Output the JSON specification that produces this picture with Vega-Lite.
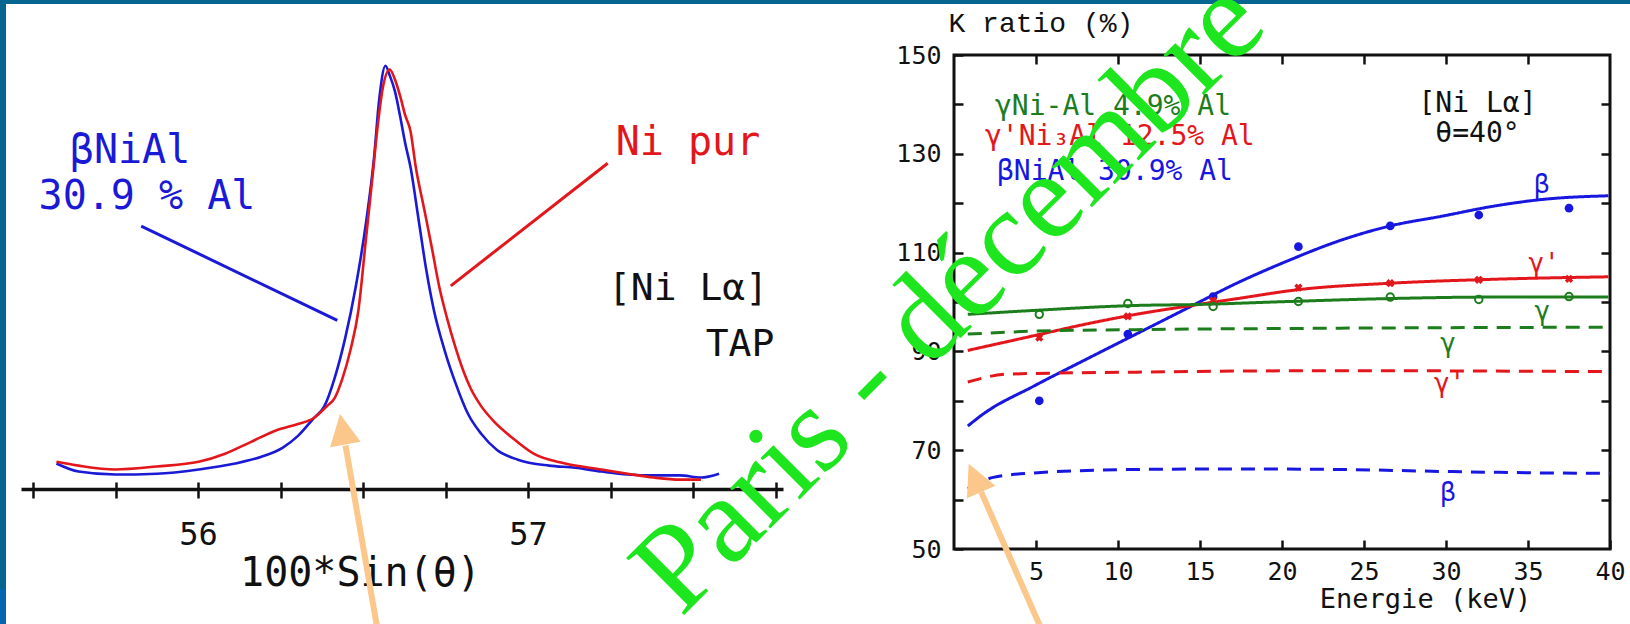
{
  "$schema": "https://vega.github.io/schema/vega-lite/v6.json",
  "background": "white",
  "autosize": {"type": "pad"},
  "padding": {"left": -50, "top": -100, "right": -50, "bottom": -56},
  "bounds": "flush",
  "spacing": 171,
  "resolve": {"scale": {"color": "independent", "strokeDash": "independent"}},
  "config": {
    "axis": {"grid": false, "labelFont": "DejaVu Sans Mono", "titleFont": "DejaVu Sans Mono", "labelColor": "#111", "titleColor": "#111", "titleFontWeight": "normal", "tickColor": "#111", "domainColor": "#111", "labelFlush": false, "labelOverlap": false},
    "text": {"font": "DejaVu Sans Mono"}
  },
  "datasets": {
    "spectra": [
      {"sample": "βNiAl", "s": 55.571, "I": 6.0}, {"sample": "βNiAl", "s": 55.638, "I": 4.1}, {"sample": "βNiAl", "s": 55.749, "I": 3.4}, {"sample": "βNiAl", "s": 55.875, "I": 3.6}, {"sample": "βNiAl", "s": 56.002, "I": 4.6}, {"sample": "βNiAl", "s": 56.113, "I": 6.0}, {"sample": "βNiAl", "s": 56.192, "I": 7.6}, {"sample": "βNiAl", "s": 56.256, "I": 9.7}, {"sample": "βNiAl", "s": 56.303, "I": 12.5}, {"sample": "βNiAl", "s": 56.351, "I": 16.7}, {"sample": "βNiAl", "s": 56.383, "I": 19.5}, {"sample": "βNiAl", "s": 56.414, "I": 26.1}, {"sample": "βNiAl", "s": 56.446, "I": 35.5}, {"sample": "βNiAl", "s": 56.478, "I": 47.6}, {"sample": "βNiAl", "s": 56.509, "I": 62.6}, {"sample": "βNiAl", "s": 56.533, "I": 77.6}, {"sample": "βNiAl", "s": 56.549, "I": 91.6}, {"sample": "βNiAl", "s": 56.568, "I": 99.6}, {"sample": "βNiAl", "s": 56.581, "I": 97.3}, {"sample": "βNiAl", "s": 56.597, "I": 93.5}, {"sample": "βNiAl", "s": 56.612, "I": 87.9}, {"sample": "βNiAl", "s": 56.628, "I": 81.3}, {"sample": "βNiAl", "s": 56.644, "I": 75.7}, {"sample": "βNiAl", "s": 56.668, "I": 63.6}, {"sample": "βNiAl", "s": 56.692, "I": 51.4}, {"sample": "βNiAl", "s": 56.715, "I": 42.0}, {"sample": "βNiAl", "s": 56.747, "I": 32.7}, {"sample": "βNiAl", "s": 56.779, "I": 25.2}, {"sample": "βNiAl", "s": 56.818, "I": 17.7}, {"sample": "βNiAl", "s": 56.858, "I": 13.0}, {"sample": "βNiAl", "s": 56.906, "I": 9.2}, {"sample": "βNiAl", "s": 56.969, "I": 6.9}, {"sample": "βNiAl", "s": 57.064, "I": 5.5}, {"sample": "βNiAl", "s": 57.143, "I": 5.0}, {"sample": "βNiAl", "s": 57.223, "I": 4.1}, {"sample": "βNiAl", "s": 57.302, "I": 3.4}, {"sample": "βNiAl", "s": 57.381, "I": 3.2}, {"sample": "βNiAl", "s": 57.46, "I": 3.2}, {"sample": "βNiAl", "s": 57.524, "I": 2.7}, {"sample": "βNiAl", "s": 57.579, "I": 3.6},
      {"sample": "Ni pur", "s": 55.571, "I": 6.4}, {"sample": "Ni pur", "s": 55.638, "I": 5.5}, {"sample": "Ni pur", "s": 55.749, "I": 4.6}, {"sample": "Ni pur", "s": 55.875, "I": 5.3}, {"sample": "Ni pur", "s": 56.002, "I": 6.4}, {"sample": "Ni pur", "s": 56.082, "I": 8.3}, {"sample": "Ni pur", "s": 56.161, "I": 11.1}, {"sample": "Ni pur", "s": 56.24, "I": 13.9}, {"sample": "Ni pur", "s": 56.303, "I": 15.3}, {"sample": "Ni pur", "s": 56.351, "I": 16.7}, {"sample": "Ni pur", "s": 56.391, "I": 19.5}, {"sample": "Ni pur", "s": 56.414, "I": 21.4}, {"sample": "Ni pur", "s": 56.438, "I": 26.1}, {"sample": "Ni pur", "s": 56.462, "I": 32.7}, {"sample": "Ni pur", "s": 56.486, "I": 42.0}, {"sample": "Ni pur", "s": 56.509, "I": 58.9}, {"sample": "Ni pur", "s": 56.528, "I": 72.9}, {"sample": "Ni pur", "s": 56.544, "I": 85.1}, {"sample": "Ni pur", "s": 56.56, "I": 94.4}, {"sample": "Ni pur", "s": 56.581, "I": 98.7}, {"sample": "Ni pur", "s": 56.597, "I": 96.3}, {"sample": "Ni pur", "s": 56.612, "I": 92.6}, {"sample": "Ni pur", "s": 56.628, "I": 87.9}, {"sample": "Ni pur", "s": 56.644, "I": 84.2}, {"sample": "Ni pur", "s": 56.66, "I": 75.7}, {"sample": "Ni pur", "s": 56.684, "I": 66.4}, {"sample": "Ni pur", "s": 56.708, "I": 57.0}, {"sample": "Ni pur", "s": 56.731, "I": 47.6}, {"sample": "Ni pur", "s": 56.755, "I": 40.1}, {"sample": "Ni pur", "s": 56.779, "I": 33.6}, {"sample": "Ni pur", "s": 56.803, "I": 28.0}, {"sample": "Ni pur", "s": 56.826, "I": 23.7}, {"sample": "Ni pur", "s": 56.858, "I": 19.5}, {"sample": "Ni pur", "s": 56.898, "I": 15.8}, {"sample": "Ni pur", "s": 56.953, "I": 12.0}, {"sample": "Ni pur", "s": 57.017, "I": 8.3}, {"sample": "Ni pur", "s": 57.112, "I": 6.0}, {"sample": "Ni pur", "s": 57.223, "I": 4.6}, {"sample": "Ni pur", "s": 57.302, "I": 3.6}, {"sample": "Ni pur", "s": 57.381, "I": 2.7}, {"sample": "Ni pur", "s": 57.46, "I": 2.2}, {"sample": "Ni pur", "s": 57.524, "I": 2.2}
    ],
    "leaders": [
      {"sample": "βNiAl", "s": 55.8278, "I": 61.86, "s2": 56.4221, "I2": 39.67},
      {"sample": "Ni pur", "s": 57.2415, "I": 76.66, "s2": 56.766, "I2": 47.81}
    ],
    "ltext": [
      {"sample": "βNiAl", "label": "βNiAl", "s": 55.794, "I": 79.53},
      {"sample": "βNiAl", "label": "30.9 % Al", "s": 55.8454, "I": 68.71},
      {"sample": "Ni pur", "label": "Ni pur", "s": 57.4848, "I": 81.41}
    ],
    "lblack": [
      {"label": "[Ni Lα]", "s": 57.4848, "I": 47.06},
      {"label": "TAP", "s": 57.6424, "I": 33.88}
    ],
    "larrow": [{"s": 56.5442, "I": -33.17, "s2": 56.447, "I2": 10.24}],
    "lhead": [{"s": 56.4303, "I": 17.65}],
    "kcurves": [
      {"phase": "β", "model": "fit", "E": 0.84, "K": 74.9}, {"phase": "β", "model": "fit", "E": 1.77, "K": 77.3}, {"phase": "β", "model": "fit", "E": 4.88, "K": 83.0}, {"phase": "β", "model": "fit", "E": 8.0, "K": 88.3}, {"phase": "β", "model": "fit", "E": 11.1, "K": 93.5}, {"phase": "β", "model": "fit", "E": 14.2, "K": 98.7}, {"phase": "β", "model": "fit", "E": 17.3, "K": 103.9}, {"phase": "β", "model": "fit", "E": 20.4, "K": 108.4}, {"phase": "β", "model": "fit", "E": 23.5, "K": 112.4}, {"phase": "β", "model": "fit", "E": 26.6, "K": 115.4}, {"phase": "β", "model": "fit", "E": 29.8, "K": 117.4}, {"phase": "β", "model": "fit", "E": 32.9, "K": 119.4}, {"phase": "β", "model": "fit", "E": 36.0, "K": 120.8}, {"phase": "β", "model": "fit", "E": 39.9, "K": 121.5},
      {"phase": "β", "model": "dash", "E": 0.84, "K": 62.2}, {"phase": "β", "model": "dash", "E": 2.4, "K": 64.5}, {"phase": "β", "model": "dash", "E": 4.9, "K": 65.4}, {"phase": "β", "model": "dash", "E": 11.1, "K": 66.1}, {"phase": "β", "model": "dash", "E": 17.3, "K": 66.2}, {"phase": "β", "model": "dash", "E": 23.5, "K": 66.1}, {"phase": "β", "model": "dash", "E": 29.8, "K": 65.7}, {"phase": "β", "model": "dash", "E": 36.0, "K": 65.4}, {"phase": "β", "model": "dash", "E": 40.0, "K": 65.3},
      {"phase": "γ'", "model": "fit", "E": 0.84, "K": 90.2}, {"phase": "γ'", "model": "fit", "E": 4.9, "K": 93.2}, {"phase": "γ'", "model": "fit", "E": 8.0, "K": 95.5}, {"phase": "γ'", "model": "fit", "E": 11.1, "K": 97.5}, {"phase": "γ'", "model": "fit", "E": 14.9, "K": 99.5}, {"phase": "γ'", "model": "fit", "E": 17.3, "K": 100.7}, {"phase": "γ'", "model": "fit", "E": 21.0, "K": 102.5}, {"phase": "γ'", "model": "fit", "E": 26.6, "K": 103.8}, {"phase": "γ'", "model": "fit", "E": 32.9, "K": 104.6}, {"phase": "γ'", "model": "fit", "E": 39.9, "K": 105.1},
      {"phase": "γ'", "model": "dash", "E": 0.84, "K": 83.8}, {"phase": "γ'", "model": "dash", "E": 3.3, "K": 85.4}, {"phase": "γ'", "model": "dash", "E": 11.1, "K": 85.8}, {"phase": "γ'", "model": "dash", "E": 23.5, "K": 86.1}, {"phase": "γ'", "model": "dash", "E": 40.0, "K": 85.9},
      {"phase": "γ", "model": "fit", "E": 0.84, "K": 97.5}, {"phase": "γ", "model": "fit", "E": 4.9, "K": 98.3}, {"phase": "γ", "model": "fit", "E": 11.1, "K": 99.3}, {"phase": "γ", "model": "fit", "E": 14.9, "K": 99.5}, {"phase": "γ", "model": "fit", "E": 20.4, "K": 100.1}, {"phase": "γ", "model": "fit", "E": 26.6, "K": 100.7}, {"phase": "γ", "model": "fit", "E": 32.9, "K": 101.0}, {"phase": "γ", "model": "fit", "E": 39.9, "K": 101.0},
      {"phase": "γ", "model": "dash", "E": 0.84, "K": 93.5}, {"phase": "γ", "model": "dash", "E": 4.9, "K": 94.1}, {"phase": "γ", "model": "dash", "E": 11.1, "K": 94.4}, {"phase": "γ", "model": "dash", "E": 23.5, "K": 94.7}, {"phase": "γ", "model": "dash", "E": 40.0, "K": 94.9}
    ],
    "kpoints": [
      {"phase": "β", "E": 5.2, "K": 80.0}, {"phase": "β", "E": 10.6, "K": 93.5}, {"phase": "β", "E": 15.8, "K": 101.1}, {"phase": "β", "E": 21.0, "K": 111.2}, {"phase": "β", "E": 26.6, "K": 115.4}, {"phase": "β", "E": 32.0, "K": 117.6}, {"phase": "β", "E": 37.5, "K": 119.0},
      {"phase": "γ'", "E": 5.2, "K": 92.8}, {"phase": "γ'", "E": 10.6, "K": 97.1}, {"phase": "γ'", "E": 15.8, "K": 100.3}, {"phase": "γ'", "E": 21.0, "K": 102.9}, {"phase": "γ'", "E": 26.6, "K": 103.8}, {"phase": "γ'", "E": 32.0, "K": 104.5}, {"phase": "γ'", "E": 37.5, "K": 104.7},
      {"phase": "γ", "E": 5.2, "K": 97.5}, {"phase": "γ", "E": 10.6, "K": 99.7}, {"phase": "γ", "E": 15.8, "K": 99.1}, {"phase": "γ", "E": 21.0, "K": 100.1}, {"phase": "γ", "E": 26.6, "K": 101.0}, {"phase": "γ", "E": 32.0, "K": 100.5}, {"phase": "γ", "E": 37.5, "K": 101.1}
    ],
    "klegend": [
      {"phase": "γ", "label": "γNi-Al 4.9% Al", "E": 2.5, "K": 139.47},
      {"phase": "γ'", "label": "γ'Ni₃Al 12.5% Al", "E": 1.89, "K": 133.4},
      {"phase": "β", "label": "βNiAl 30.9% Al", "E": 2.62, "K": 126.32}
    ],
    "klabels": [
      {"phase": "β", "label": "β", "E": 35.85, "K": 123.68},
      {"phase": "γ'", "label": "γ'", "E": 35.98, "K": 107.79},
      {"phase": "γ", "label": "γ", "E": 35.88, "K": 97.89},
      {"phase": "γ", "label": "γ", "E": 30.12, "K": 91.44},
      {"phase": "γ'", "label": "γ'", "E": 30.22, "K": 83.4},
      {"phase": "β", "label": "β", "E": 30.12, "K": 61.4}
    ],
    "kblack": [
      {"label": "[Ni Lα]", "E": 31.92, "K": 140.18},
      {"label": "θ=40°", "E": 31.92, "K": 134.01}
    ],
    "rarrow": [{"E": 5.35, "K": 33.6, "E2": 1.659, "K2": 61.52}],
    "rhead": [{"E": 0.896, "K": 67.27}],
    "watermark": [{"label": "Paris - décembre", "E": -16.65, "K": 36.03}]
  },
  "hconcat": [
    {
      "width": 762,
      "height": 434,
      "view": {"stroke": null},
      "resolve": {"axis": {"x": "independent", "y": "independent"}},
      "layer": [
        {
          "data": {"values": [{}]},
          "mark": {"type": "rect", "color": "#07668f"},
          "encoding": {
            "x": {"datum": 55.2485, "type": "quantitative", "scale": {"domain": [55.4636, 57.7727], "nice": false, "zero": false}, "axis": null},
            "x2": {"datum": 60.4908},
            "y": {"datum": 138.586, "type": "quantitative", "scale": {"domain": [0, 102.1176], "nice": false, "zero": false}, "axis": null},
            "y2": {"datum": 114.118}
          }
        },
        {
          "data": {"values": [{}]},
          "mark": {"type": "rect", "color": "#07668f"},
          "encoding": {
            "x": {"datum": 55.2485, "type": "quantitative", "scale": {"domain": [55.4636, 57.7727], "nice": false, "zero": false}, "axis": null},
            "x2": {"datum": 55.41815},
            "y": {"datum": 138.586, "type": "quantitative", "scale": {"domain": [0, 102.1176], "nice": false, "zero": false}, "axis": null},
            "y2": {"datum": -23.529}
          }
        },
        {
          "data": {"values": [{}]},
          "mark": {"type": "rect", "color": "#0466b0"},
          "encoding": {
            "x": {"datum": 55.2485, "type": "quantitative", "scale": {"domain": [55.4636, 57.7727], "nice": false, "zero": false}, "axis": null},
            "x2": {"datum": 55.41815},
            "y": {"datum": -23.529, "type": "quantitative", "scale": {"domain": [0, 102.1176], "nice": false, "zero": false}, "axis": null},
            "y2": {"datum": -44.939}
          }
        },
        {
          "data": {"name": "spectra"},
          "mark": {"type": "line", "strokeWidth": 2.6, "interpolate": "monotone"},
          "encoding": {
            "x": {"field": "s", "type": "quantitative", "scale": {"domain": [55.4636, 57.7727], "nice": false, "zero": false},
              "axis": {"orient": "bottom", "values": [55.5, 55.75, 56, 56.25, 56.5, 56.75, 57, 57.25, 57.5, 57.75], "labelExpr": "datum.value == 56 ? '56' : (datum.value == 57 ? '57' : '')", "tickSize": 9, "tickWidth": 2.5, "domainWidth": 3.5, "labelFont": "DejaVu Sans Mono", "labelFontSize": 32, "labelPadding": 21, "title": "100*Sin(θ)", "titleFont": "DejaVu Sans Mono", "titleFontSize": 40, "titleX": 339, "titleY": 84, "titleAlign": "center", "titleBaseline": "middle"}},
            "y": {"field": "I", "type": "quantitative", "scale": {"domain": [0, 102.1176], "nice": false, "zero": false}, "axis": null},
            "color": {"field": "sample", "type": "nominal", "scale": {"domain": ["βNiAl", "Ni pur"], "range": ["#1a1ad6", "#e3161b"]}, "legend": null}
          }
        },
        {
          "data": {"name": "leaders"},
          "mark": {"type": "rule", "strokeWidth": 3},
          "encoding": {
            "x": {"field": "s", "type": "quantitative", "scale": {"domain": [55.4636, 57.7727], "nice": false, "zero": false},
              "axis": {"orient": "bottom", "values": [55.5, 55.75, 56, 56.25, 56.5, 56.75, 57, 57.25, 57.5, 57.75], "tickSize": -7, "tickWidth": 2.5, "labels": false, "domain": false, "title": null}},
            "y": {"field": "I", "type": "quantitative", "scale": {"domain": [0, 102.1176], "nice": false, "zero": false}, "axis": null},
            "x2": {"field": "s2"},
            "y2": {"field": "I2"},
            "color": {"field": "sample", "type": "nominal", "scale": {"domain": ["βNiAl", "Ni pur"], "range": ["#1a1ad6", "#e3161b"]}, "legend": null}
          }
        },
        {
          "data": {"name": "ltext"},
          "mark": {"type": "text", "fontSize": 40, "font": "DejaVu Sans Mono", "baseline": "middle", "align": "center"},
          "encoding": {
            "x": {"field": "s", "type": "quantitative", "scale": {"domain": [55.4636, 57.7727], "nice": false, "zero": false}, "axis": null},
            "y": {"field": "I", "type": "quantitative", "scale": {"domain": [0, 102.1176], "nice": false, "zero": false}, "axis": null},
            "text": {"field": "label"},
            "color": {"field": "sample", "type": "nominal", "scale": {"domain": ["βNiAl", "Ni pur"], "range": ["#1a1ad6", "#e3161b"]}, "legend": null}
          }
        },
        {
          "data": {"name": "lblack"},
          "mark": {"type": "text", "fontSize": 38, "font": "DejaVu Sans Mono", "baseline": "middle", "align": "center", "color": "#111"},
          "encoding": {
            "x": {"field": "s", "type": "quantitative", "scale": {"domain": [55.4636, 57.7727], "nice": false, "zero": false}, "axis": null},
            "y": {"field": "I", "type": "quantitative", "scale": {"domain": [0, 102.1176], "nice": false, "zero": false}, "axis": null},
            "text": {"field": "label"}
          }
        },
        {
          "data": {"name": "larrow"},
          "mark": {"type": "rule", "strokeWidth": 6, "color": "#fcc78a", "strokeCap": "butt"},
          "encoding": {
            "x": {"field": "s", "type": "quantitative", "scale": {"domain": [55.4636, 57.7727], "nice": false, "zero": false}, "axis": null},
            "y": {"field": "I", "type": "quantitative", "scale": {"domain": [0, 102.1176], "nice": false, "zero": false}, "axis": null},
            "x2": {"field": "s2"},
            "y2": {"field": "I2"}
          }
        },
        {
          "data": {"name": "lhead"},
          "mark": {"type": "point", "shape": "M0,0L0.5,1L-0.5,1Z", "size": 3844, "angle": -9.9, "filled": true, "opacity": 1, "color": "#fcc78a", "strokeWidth": 0},
          "encoding": {
            "x": {"field": "s", "type": "quantitative", "scale": {"domain": [55.4636, 57.7727], "nice": false, "zero": false}, "axis": null},
            "y": {"field": "I", "type": "quantitative", "scale": {"domain": [0, 102.1176], "nice": false, "zero": false}, "axis": null}
          }
        }
      ]
    },
    {
      "width": 656,
      "height": 494,
      "view": {"stroke": "#111", "strokeWidth": 3},
      "resolve": {"axis": {"x": "independent", "y": "independent"}},
      "layer": [
        {
          "data": {"name": "kcurves"},
          "mark": {"type": "line", "strokeWidth": 3, "interpolate": "monotone"},
          "encoding": {
            "x": {"field": "E", "type": "quantitative", "scale": {"domain": [0, 40], "nice": false, "zero": false},
              "axis": {"orient": "bottom", "values": [5, 10, 15, 20, 25, 30, 35, 40], "tickSize": -9, "tickWidth": 2.5, "domain": false, "labelFont": "DejaVu Sans Mono", "labelFontSize": 25, "labelPadding": 19, "title": "Energie (keV)", "titleFont": "DejaVu Sans Mono", "titleFontSize": 27, "titleX": 471, "titleY": 50, "titleAlign": "center", "titleBaseline": "middle"}},
            "y": {"field": "K", "type": "quantitative", "scale": {"domain": [50, 150], "nice": false, "zero": false},
              "axis": {"orient": "left", "values": [50, 60, 70, 80, 90, 100, 110, 120, 130, 140, 150], "labelExpr": "datum.value % 20 == 10 ? datum.label : ''", "tickSize": -9, "tickWidth": 2.5, "domain": false, "labelFont": "DejaVu Sans Mono", "labelFontSize": 25, "labelPadding": 22, "title": "K ratio (%)", "titleFont": "Liberation Mono", "titleFontSize": 28, "titleAngle": 0, "titleX": -6, "titleY": -32, "titleAlign": "left", "titleBaseline": "middle"}},
            "color": {"field": "phase", "type": "nominal", "scale": {"domain": ["β", "γ'", "γ"], "range": ["#1717e0", "#e3161c", "#1d7d1d"]}, "legend": null},
            "strokeDash": {"field": "model", "type": "nominal", "scale": {"domain": ["fit", "dash"], "range": [[1, 0], [14, 9]]}, "legend": null}
          }
        },
        {
          "data": {"name": "kpoints"},
          "transform": [{"filter": {"field": "phase", "equal": "β"}}],
          "mark": {"type": "point", "shape": "circle", "filled": true, "opacity": 1, "size": 75},
          "encoding": {
            "x": {"field": "E", "type": "quantitative", "scale": {"domain": [0, 40], "nice": false, "zero": false},
              "axis": {"orient": "top", "values": [5, 10, 15, 20, 25, 30, 35], "tickSize": -9, "tickWidth": 2.5, "domain": false, "labels": false, "title": null}},
            "y": {"field": "K", "type": "quantitative", "scale": {"domain": [50, 150], "nice": false, "zero": false},
              "axis": {"orient": "right", "values": [60, 70, 80, 90, 100, 110, 120, 130, 140], "tickSize": -9, "tickWidth": 2.5, "domain": false, "labels": false, "title": null}},
            "color": {"field": "phase", "type": "nominal", "scale": {"domain": ["β", "γ'", "γ"], "range": ["#1717e0", "#e3161c", "#1d7d1d"]}, "legend": null}
          }
        },
        {
          "data": {"name": "kpoints"},
          "transform": [{"filter": {"field": "phase", "equal": "γ'"}}],
          "mark": {"type": "point", "shape": "cross", "angle": 45, "filled": true, "opacity": 1, "size": 70},
          "encoding": {
            "x": {"field": "E", "type": "quantitative", "scale": {"domain": [0, 40], "nice": false, "zero": false}, "axis": null},
            "y": {"field": "K", "type": "quantitative", "scale": {"domain": [50, 150], "nice": false, "zero": false}, "axis": null},
            "color": {"field": "phase", "type": "nominal", "scale": {"domain": ["β", "γ'", "γ"], "range": ["#1717e0", "#e3161c", "#1d7d1d"]}, "legend": null}
          }
        },
        {
          "data": {"name": "kpoints"},
          "transform": [{"filter": {"field": "phase", "equal": "γ"}}],
          "mark": {"type": "point", "shape": "circle", "filled": false, "opacity": 1, "size": 55, "strokeWidth": 2},
          "encoding": {
            "x": {"field": "E", "type": "quantitative", "scale": {"domain": [0, 40], "nice": false, "zero": false}, "axis": null},
            "y": {"field": "K", "type": "quantitative", "scale": {"domain": [50, 150], "nice": false, "zero": false}, "axis": null},
            "color": {"field": "phase", "type": "nominal", "scale": {"domain": ["β", "γ'", "γ"], "range": ["#1717e0", "#e3161c", "#1d7d1d"]}, "legend": null}
          }
        },
        {
          "data": {"name": "klegend"},
          "mark": {"type": "text", "fontSize": 28, "font": "DejaVu Sans Mono", "baseline": "middle", "align": "left"},
          "encoding": {
            "x": {"field": "E", "type": "quantitative", "scale": {"domain": [0, 40], "nice": false, "zero": false}, "axis": null},
            "y": {"field": "K", "type": "quantitative", "scale": {"domain": [50, 150], "nice": false, "zero": false}, "axis": null},
            "text": {"field": "label"},
            "color": {"field": "phase", "type": "nominal", "scale": {"domain": ["β", "γ'", "γ"], "range": ["#1717e0", "#e3161c", "#1d7d1d"]}, "legend": null}
          }
        },
        {
          "data": {"name": "klabels"},
          "mark": {"type": "text", "fontSize": 26, "font": "DejaVu Sans Mono", "baseline": "middle", "align": "center"},
          "encoding": {
            "x": {"field": "E", "type": "quantitative", "scale": {"domain": [0, 40], "nice": false, "zero": false}, "axis": null},
            "y": {"field": "K", "type": "quantitative", "scale": {"domain": [50, 150], "nice": false, "zero": false}, "axis": null},
            "text": {"field": "label"},
            "color": {"field": "phase", "type": "nominal", "scale": {"domain": ["β", "γ'", "γ"], "range": ["#1717e0", "#e3161c", "#1d7d1d"]}, "legend": null}
          }
        },
        {
          "data": {"name": "kblack"},
          "mark": {"type": "text", "fontSize": 28, "font": "DejaVu Sans Mono", "baseline": "middle", "align": "center", "color": "#111"},
          "encoding": {
            "x": {"field": "E", "type": "quantitative", "scale": {"domain": [0, 40], "nice": false, "zero": false}, "axis": null},
            "y": {"field": "K", "type": "quantitative", "scale": {"domain": [50, 150], "nice": false, "zero": false}, "axis": null},
            "text": {"field": "label"}
          }
        },
        {
          "data": {"name": "rarrow"},
          "mark": {"type": "rule", "strokeWidth": 6, "color": "#fcc78a", "strokeCap": "butt"},
          "encoding": {
            "x": {"field": "E", "type": "quantitative", "scale": {"domain": [0, 40], "nice": false, "zero": false}, "axis": null},
            "y": {"field": "K", "type": "quantitative", "scale": {"domain": [50, 150], "nice": false, "zero": false}, "axis": null},
            "x2": {"field": "E2"},
            "y2": {"field": "K2"}
          }
        },
        {
          "data": {"name": "rhead"},
          "mark": {"type": "point", "shape": "M0,0L0.5,1L-0.5,1Z", "size": 3844, "angle": -23.7, "filled": true, "opacity": 1, "color": "#fcc78a", "strokeWidth": 0},
          "encoding": {
            "x": {"field": "E", "type": "quantitative", "scale": {"domain": [0, 40], "nice": false, "zero": false}, "axis": null},
            "y": {"field": "K", "type": "quantitative", "scale": {"domain": [50, 150], "nice": false, "zero": false}, "axis": null}
          }
        },
        {
          "data": {"name": "watermark"},
          "mark": {"type": "text", "fontSize": 124, "font": "Liberation Serif", "angle": -45, "align": "left", "baseline": "alphabetic", "color": "#1ee61e"},
          "encoding": {
            "x": {"field": "E", "type": "quantitative", "scale": {"domain": [0, 40], "nice": false, "zero": false}, "axis": null},
            "y": {"field": "K", "type": "quantitative", "scale": {"domain": [50, 150], "nice": false, "zero": false}, "axis": null},
            "text": {"field": "label"}
          }
        }
      ]
    }
  ]
}
